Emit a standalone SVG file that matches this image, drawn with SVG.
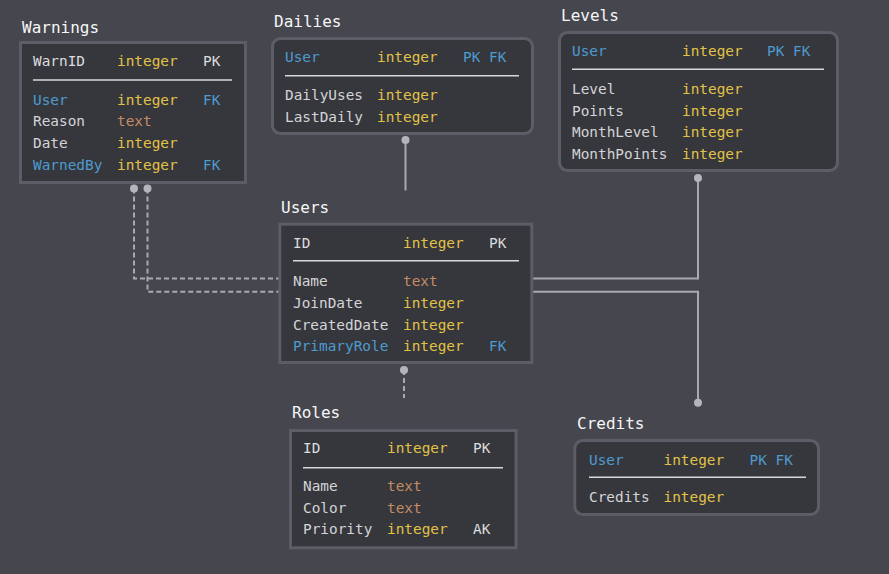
<svg xmlns="http://www.w3.org/2000/svg" width="889" height="574" viewBox="0 0 889 574">
<style>
text{font-family:"DejaVu Sans Mono","Liberation Mono",monospace;font-size:14.4px;fill:#d4d4d6}
.t{font-size:16px;fill:#f6f6f6}
.b{fill:#4d9bcf}
.y{fill:#e2c246}
.o{fill:#c48b62}
.w{fill:#dcdcde}
.box{fill:#36373d;stroke:#5c5d66;stroke-width:3}
.sep{stroke:#d8d8da;stroke-width:1.5}
.c{fill:none;stroke:#a9a9b0;stroke-width:2}
.d{fill:none;stroke:#a9a9b0;stroke-width:2;stroke-dasharray:5 3}
.dot{fill:#b4b4bb}
</style>
<rect width="889" height="574" fill="#46464e"/>
<g id="connectors">
<path class="c" d="M405.5 140 V190.5"/>
<circle class="dot" cx="405.5" cy="140" r="4"/>
<path class="c" d="M698 178 V278.5 H533"/>
<circle class="dot" cx="698" cy="178" r="4"/>
<path class="c" d="M533 291.7 H698 V402.7"/>
<circle class="dot" cx="698" cy="402.7" r="4"/>
<path class="d" d="M134 188.5 V278.5 H279"/>
<path class="d" d="M147.5 188.5 V291.7 H279"/>
<circle class="dot" cx="134" cy="188.5" r="4"/>
<circle class="dot" cx="147.5" cy="188.5" r="4"/>
<path class="d" d="M404 370 V398"/>
<circle class="dot" cx="404" cy="370" r="4"/>
</g>
<g id="Warnings">
<text class="t" x="22" y="33">Warnings</text>
<rect class="box" x="20.5" y="42.5" width="225" height="140"/>
<line class="sep" x1="33" y1="80" x2="232" y2="80"/>
<text x="33" y="66" class="w">WarnID</text><text x="117" y="66" class="y">integer</text><text x="203" y="66" class="w">PK</text>
<text x="33" y="105" class="b">User</text><text x="117" y="105" class="y">integer</text><text x="203" y="105" class="b">FK</text>
<text x="33" y="126">Reason</text><text x="117" y="126" class="o">text</text>
<text x="33" y="148">Date</text><text x="117" y="148" class="y">integer</text>
<text x="33" y="170" class="b">WarnedBy</text><text x="117" y="170" class="y">integer</text><text x="203" y="170" class="b">FK</text>
</g>
<g id="Dailies">
<text class="t" x="274" y="27">Dailies</text>
<rect class="box" x="272.5" y="38.5" width="260" height="95" rx="8"/>
<line class="sep" x1="285" y1="75.7" x2="519" y2="75.7"/>
<text x="285" y="62" class="b">User</text><text x="377" y="62" class="y">integer</text><text x="463" y="62" class="b">PK FK</text>
<text x="285" y="100">DailyUses</text><text x="377" y="100" class="y">integer</text>
<text x="285" y="122">LastDaily</text><text x="377" y="122" class="y">integer</text>
</g>
<g id="Levels">
<text class="t" x="561" y="21">Levels</text>
<rect class="box" x="559.5" y="32.5" width="278" height="138" rx="8"/>
<line class="sep" x1="572" y1="69.3" x2="824" y2="69.3"/>
<text x="572" y="56" class="b">User</text><text x="682" y="56" class="y">integer</text><text x="767" y="56" class="b">PK FK</text>
<text x="572" y="94">Level</text><text x="682" y="94" class="y">integer</text>
<text x="572" y="116">Points</text><text x="682" y="116" class="y">integer</text>
<text x="572" y="137">MonthLevel</text><text x="682" y="137" class="y">integer</text>
<text x="572" y="159">MonthPoints</text><text x="682" y="159" class="y">integer</text>
</g>
<g id="Users">
<text class="t" x="281" y="213">Users</text>
<rect class="box" x="279.8" y="224.2" width="252" height="138.3"/>
<line class="sep" x1="293" y1="260.7" x2="519" y2="260.7"/>
<text x="293" y="248" class="w">ID</text><text x="403" y="248" class="y">integer</text><text x="489" y="248" class="w">PK</text>
<text x="293" y="286">Name</text><text x="403" y="286" class="o">text</text>
<text x="293" y="308">JoinDate</text><text x="403" y="308" class="y">integer</text>
<text x="293" y="329.5">CreatedDate</text><text x="403" y="329.5" class="y">integer</text>
<text x="293" y="351" class="b">PrimaryRole</text><text x="403" y="351" class="y">integer</text><text x="489" y="351" class="b">FK</text>
</g>
<g id="Roles">
<text class="t" x="292" y="418">Roles</text>
<rect class="box" x="290.5" y="430.5" width="225.5" height="117.3"/>
<line class="sep" x1="303" y1="467.7" x2="503" y2="467.7"/>
<text x="303" y="453" class="w">ID</text><text x="387" y="453" class="y">integer</text><text x="473" y="453" class="w">PK</text>
<text x="303" y="491">Name</text><text x="387" y="491" class="o">text</text>
<text x="303" y="513">Color</text><text x="387" y="513" class="o">text</text>
<text x="303" y="534">Priority</text><text x="387" y="534" class="y">integer</text><text x="473" y="534" class="w">AK</text>
</g>
<g id="Credits">
<text class="t" x="577" y="429">Credits</text>
<rect class="box" x="574.8" y="440.5" width="243.7" height="74" rx="8"/>
<line class="sep" x1="589" y1="477.3" x2="806" y2="477.3"/>
<text x="589" y="464.5" class="b">User</text><text x="663.5" y="464.5" class="y">integer</text><text x="749.5" y="464.5" class="b">PK FK</text>
<text x="589" y="502">Credits</text><text x="663.5" y="502" class="y">integer</text>
</g>
</svg>
